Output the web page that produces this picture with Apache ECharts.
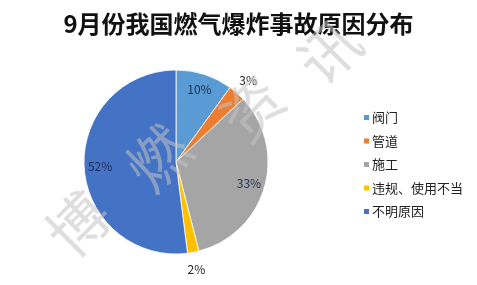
<!DOCTYPE html>
<html>
<head>
<meta charset="utf-8">
<script src="https://cdn.jsdelivr.net/npm/echarts@6/dist/echarts.min.js"></script>
<style>
  html, body { margin: 0; padding: 0; background: #fff; }
  #chart { width: 477px; height: 285px; }
</style>
</head>
<body>
<div id="chart"></div>
<script>
// 9月份燃气爆炸事故原因（百分比）
var categories = ['阀门', '管道', '施工', '违规、使用不当', '不明原因'];
var percents = [10, 3, 33, 2, 52];
var colors = ['#5b9bd5', '#ed7d31', '#a5a5a5', '#ffc000', '#4472c4'];
var watermarkChars = ['博', '燃', '资', '讯'];

var FONT = 'Noto Sans CJK SC';
var center = [176, 162];

function mainData() {
    return categories.map(function (name, i) {
        return { name: name, value: percents[i], itemStyle: { color: colors[i] } };
    });
}

// 透明的饼图只用来摆放百分比标签
function labelData(small) {
    return categories.map(function (name, i) {
        var isSmall = percents[i] < 5;
        return {
            name: name,
            value: percents[i],
            itemStyle: { color: 'rgba(0,0,0,0)' },
            label: { show: isSmall === small }
        };
    });
}

function labelSeries(radius, small) {
    return {
        type: 'pie',
        silent: true,
        center: center,
        radius: [0, radius],
        startAngle: 90,
        animation: false,
        label: {
            position: 'inside',
            formatter: '{c}%',
            fontFamily: FONT,
            fontSize: 12,
            color: small ? '#222' : '#1f2d4d'
        },
        labelLine: { show: false },
        emphasis: { disabled: true },
        data: labelData(small)
    };
}

var wmPos = [[78, 224], [158, 158], [252, 108], [329, 52]];

var chart = echarts.init(document.getElementById('chart'));
chart.setOption({
    backgroundColor: '#fff',
    animation: false,
    title: {
        text: '9月份我国燃气爆炸事故原因分布',
        left: 'center',
        top: 7,
        textStyle: {
            fontFamily: FONT,
            fontSize: 24,
            fontWeight: 'bold',
            color: '#111'
        }
    },
    legend: {
        orient: 'vertical',
        left: 357,
        top: 106,
        icon: 'rect',
        itemWidth: 7,
        itemHeight: 7,
        itemGap: 10.5,
        data: categories,
        textStyle: { fontFamily: FONT, fontSize: 13, color: '#222', padding: [0, 0, 0, -3] }
    },
    series: [
        {
            type: 'pie',
            center: center,
            radius: [0, 92],
            startAngle: 90,
            label: { show: false },
            labelLine: { show: false },
            itemStyle: { borderColor: '#fff', borderWidth: 0.8 },
            emphasis: { scale: false },
            data: mainData()
        },
        labelSeries(146, false),
        labelSeries(212, true)
    ],
    graphic: watermarkChars.map(function (ch, i) {
        return {
            type: 'text',
            x: wmPos[i][0],
            y: wmPos[i][1],
            rotation: 45 * Math.PI / 180,
            silent: true,
            z: 100,
            style: {
                text: ch,
                fontFamily: FONT,
                fontSize: 60,
                fill: 'rgba(195,195,195,0.55)',
                align: 'center',
                verticalAlign: 'middle'
            }
        };
    })
});
</script>
</body>
</html>
